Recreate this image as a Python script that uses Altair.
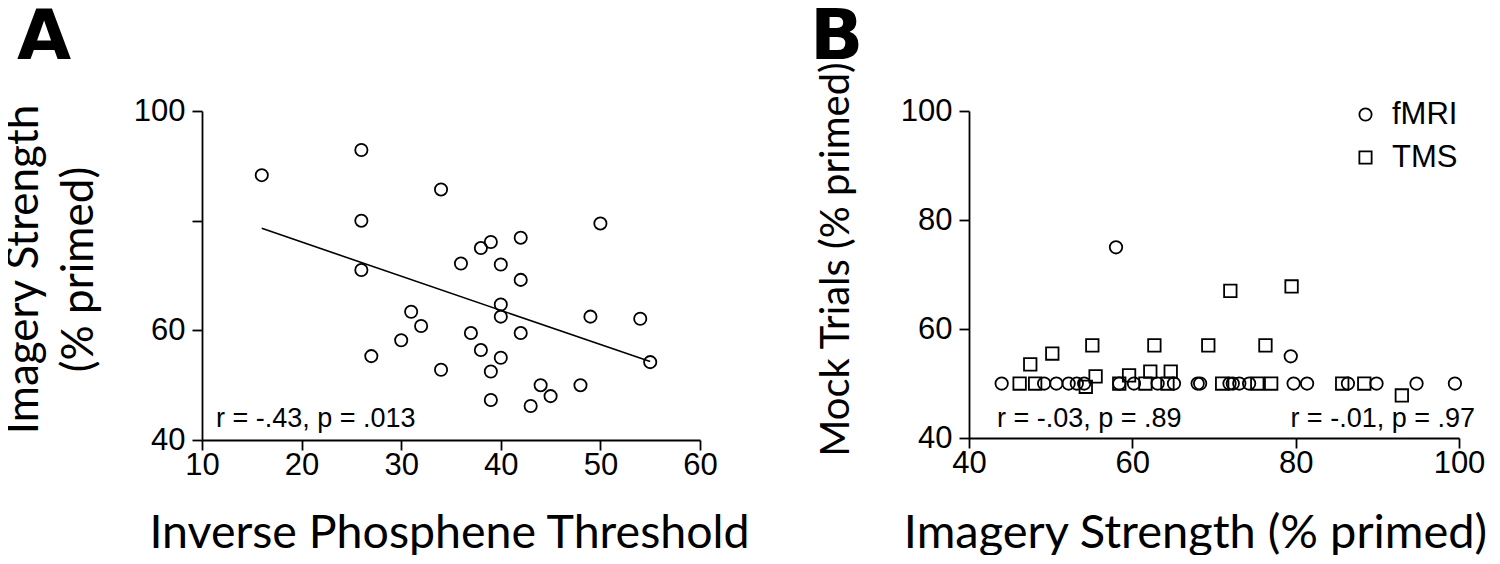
import altair as alt
import pandas as pd

# ---------------- Panel A data ----------------
a_threshold = [16, 26, 34, 26, 50, 42, 39, 38, 36, 40, 26, 42, 40, 40, 31, 32,
               49, 54, 37, 42, 30, 38, 27, 40, 34, 39, 55, 44, 48, 45, 39, 43]
a_imagery = [88.3, 92.9, 85.7, 80.0, 79.5, 76.9, 76.1, 75.0, 72.2, 72.0, 71.0, 69.2,
             64.7, 62.5, 63.4, 60.8, 62.5, 62.1, 59.5, 59.5, 58.2, 56.4, 55.3, 55.0,
             52.8, 52.5, 54.2, 50.0, 50.0, 48.0, 47.3, 46.2]
a_fit_x = [16, 55]
a_fit_y = [78.6, 54.3]
a_stat = ["r = -.43, p = .013"]
a_x_ticks = [10, 20, 30, 40, 50, 60]
a_y_ticks = [40, 60, 80, 100]
a_y_labelled = [40, 60, 100]

# ---------------- Panel B data ----------------
b_fmri_x = [58.0, 79.4, 44.0, 49.2, 50.7, 52.2, 53.2, 54.1, 58.4, 60.2, 63.1, 65.1,
            68.0, 68.3, 71.9, 72.3, 73.1, 74.3, 79.75, 81.4, 86.4, 89.9, 94.8, 99.5]
b_fmri_y = [75.0, 55.0, 50, 50, 50, 50, 50, 50, 50, 50, 50, 50,
            50, 50, 50, 50, 50, 50, 50, 50, 50, 50, 50, 50]
b_tms_x = [72.0, 79.5, 55.1, 62.7, 69.3, 76.3, 47.5, 50.2, 55.5, 59.6, 62.2, 64.7,
           54.3, 93.0, 46.2, 48.1, 58.4, 61.6, 64.3, 71.0, 75.3, 77.0, 85.7, 88.4]
b_tms_y = [67.0, 67.8, 57.0, 57.0, 57.0, 57.0, 53.5, 55.5, 51.3, 51.5, 52.2, 52.2,
           49.4, 47.8, 50, 50, 50, 50, 50, 50, 50, 50, 50, 50]
b_groups = ["fMRI", "TMS"]
b_stats = ["r = -.03, p = .89", "r = -.01, p = .97"]
b_x_ticks = [40, 60, 80, 100]
b_y_ticks = [40, 60, 80, 100]

panel_letters = ["A", "B"]

TICK_FONT = "Liberation Sans"
TITLE_FONT = "Lato"
LETTER_FONT = "DejaVu Sans"
STROKE = 1.8

# ---------------- Panel A ----------------
dfA = pd.DataFrame({"x": a_threshold, "y": a_imagery})
dfA_fit = pd.DataFrame({"x": a_fit_x, "y": a_fit_y})

label_list = ",".join(str(v) for v in a_y_labelled)
xA = alt.X("x:Q", scale=alt.Scale(domain=[10, 60], nice=False, zero=False),
           axis=alt.Axis(values=a_x_ticks, title="Inverse Phosphene Threshold",
                         titleX=247, titleY=107, titleBaseline="alphabetic",
                         titleFontSize=46.5))
yA = alt.Y("y:Q", scale=alt.Scale(domain=[40, 100], nice=False, zero=False),
           axis=alt.Axis(values=a_y_ticks, title=["Imagery Strength", "(% primed)"],
                         labelExpr=f"indexof([{label_list}], datum.value) >= 0 ? datum.label : ''",
                         titleAngle=270, titleAlign="center", titleBaseline="alphabetic",
                         titleX=-165, titleY=158, titleLineHeight=55, titleFontSize=44))

pointsA = alt.Chart(dfA).mark_point(
    shape="circle", filled=False, color="black", size=150, strokeWidth=STROKE, opacity=1
).encode(x=xA, y=yA)
lineA = alt.Chart(dfA_fit).mark_line(color="black", strokeWidth=1.6).encode(x="x:Q", y="y:Q")
statA = alt.Chart(pd.DataFrame({"t": a_stat})).mark_text(
    align="left", baseline="alphabetic", font=TICK_FONT, fontSize=27, color="black"
).encode(x=alt.value(14), y=alt.value(316), text="t:N")
letterA = alt.Chart(pd.DataFrame({"t": [panel_letters[0]]})).mark_text(
    align="left", baseline="alphabetic", font=LETTER_FONT, fontSize=70,
    fontWeight="bold", color="black"
).encode(x=alt.value(-185), y=alt.value(-52), text="t:N")

chartA = alt.layer(lineA, pointsA, statA, letterA).properties(width=498, height=329)

# ---------------- Panel B ----------------
dfB = pd.DataFrame({
    "x": b_fmri_x + b_tms_x,
    "y": b_fmri_y + b_tms_y,
    "group": [b_groups[0]] * len(b_fmri_x) + [b_groups[1]] * len(b_tms_x),
})

xB = alt.X("x:Q", scale=alt.Scale(domain=[40, 100], nice=False, zero=False),
           axis=alt.Axis(values=b_x_ticks, title="Imagery Strength (% primed)",
                         titleX=226, titleY=109, titleBaseline="alphabetic",
                         titleFontSize=47))
yB = alt.Y("y:Q", scale=alt.Scale(domain=[40, 100], nice=False, zero=False),
           axis=alt.Axis(values=b_y_ticks, title="Mock Trials (% primed)",
                         titleAngle=270, titleAlign="center", titleBaseline="alphabetic",
                         titleX=-121, titleY=148, titleFontSize=40))

pointsB = alt.Chart(dfB).mark_point(
    filled=False, color="black", strokeWidth=STROKE, opacity=1, size=155
).encode(
    x=xB, y=yB,
    shape=alt.Shape("group:N", scale=alt.Scale(domain=b_groups, range=["circle", "square"]),
                    legend=alt.Legend(orient="none", legendX=1148, legendY=-12, title=None,
                                      labelFont=TICK_FONT, labelFontSize=31, labelColor="black",
                                      symbolSize=150, symbolStrokeColor="black",
                                      symbolStrokeWidth=STROKE, symbolFillColor="transparent",
                                      labelOffset=11, rowPadding=11, padding=0)),
)
statB1 = alt.Chart(pd.DataFrame({"t": [b_stats[0]]})).mark_text(
    align="left", baseline="alphabetic", font=TICK_FONT, fontSize=27, color="black"
).encode(x=alt.value(28), y=alt.value(316), text="t:N")
statB2 = alt.Chart(pd.DataFrame({"t": [b_stats[1]]})).mark_text(
    align="right", baseline="alphabetic", font=TICK_FONT, fontSize=27, color="black"
).encode(x=alt.value(506), y=alt.value(316), text="t:N")
letterB = alt.Chart(pd.DataFrame({"t": [panel_letters[1]]})).mark_text(
    align="left", baseline="alphabetic", font=LETTER_FONT, fontSize=70,
    fontWeight="bold", color="black"
).encode(x=alt.value(-159), y=alt.value(-52), text="t:N")

chartB = alt.layer(pointsB, statB1, statB2, letterB).properties(width=490, height=327)

chart = alt.hconcat(chartA, chartB, spacing=60).properties(
    padding={"left": -6, "top": -5, "right": 0, "bottom": -2}
).configure_view(stroke=None).configure_axis(
    grid=False, domainColor="black", domainWidth=STROKE, tickColor="black", tickWidth=STROKE,
    tickSize=10, labelFont=TICK_FONT, labelFontSize=31, labelColor="black",
    labelFlush=False, labelOverlap=False,
    titleFont=TITLE_FONT, titleFontWeight="normal", titleColor="black"
).configure_axisX(labelPadding=0).configure_axisY(labelPadding=7)

chart.save("out.html", embed_options={"renderer": "svg", "actions": False})
